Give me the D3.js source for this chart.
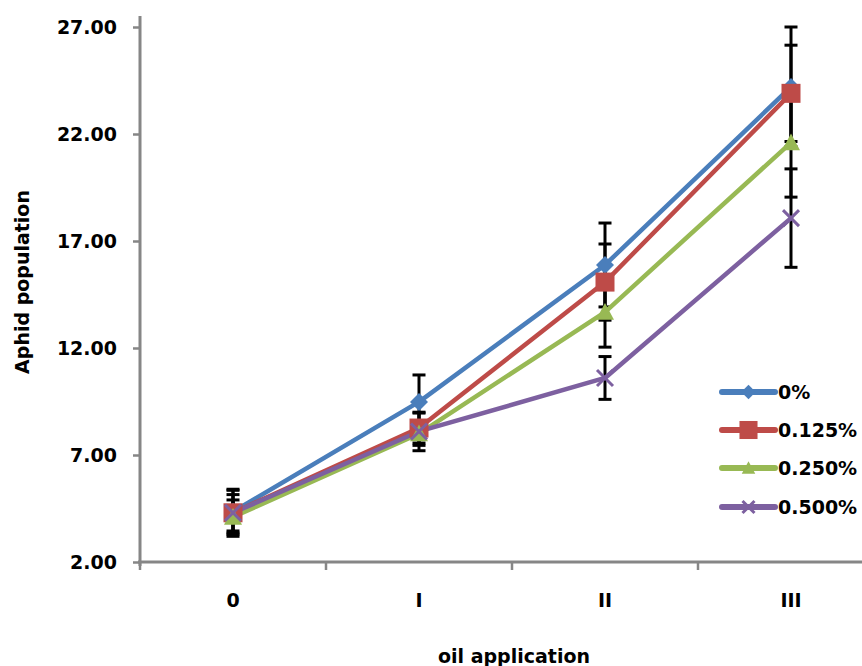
<!DOCTYPE html>
<html><head><meta charset="utf-8">
<script src="https://cdn.jsdelivr.net/npm/d3@7"></script>
<style>html,body{margin:0;padding:0;background:#fff;}svg{display:block;}</style>
</head><body>
<svg id="chart" width="862" height="666"></svg>
<script>
const categories = ["0", "I", "II", "III"];
const seriesNames = ["0%", "0.125%", "0.250%", "0.500%"];
const values0 = [4.35, 9.48, 15.88, 24.2];
const values1 = [4.3, 8.26, 15.08, 23.9];
const values2 = [4.1, 8.0, 13.68, 21.6];
const values3 = [4.3, 8.1, 10.6, 18.07];
const errors0 = [1.0, 1.26, 1.96, 2.8];
const errors1 = [0.85, 0.7, 1.78, 2.25];
const errors2 = [0.8, 0.55, 1.64, 2.55];
const errors3 = [1.1, 0.9, 1.0, 2.3];
const yTicks = [2, 7, 12, 17, 22, 27];
const colors = ["#4A7EBB", "#BE4B48", "#98B954", "#7D60A0"];
const markers = ["diamond", "square", "triangle", "x"];

const series = [values0, values1, values2, values3].map((v, i) => ({
  name: seriesNames[i], color: colors[i], marker: markers[i],
  points: v.map((val, j) => ({cat: categories[j], v: val, e: [errors0, errors1, errors2, errors3][i][j]}))
}));

const FONT = "'DejaVu Sans', sans-serif";
const svg = d3.select("#chart");
const x = d3.scaleBand().domain(categories).range([140, 884]).paddingInner(0).paddingOuter(0);
const y = d3.scaleLinear().domain([2, 27]).range([562, 27]);
const cx = c => x(c) + x.bandwidth() / 2;

// Y axis
const yAxis = svg.append("g").attr("transform", "translate(140,0)")
  .call(d3.axisLeft(y).tickValues(yTicks).tickFormat(d3.format(".2f")).tickSize(7).tickPadding(16));
yAxis.select(".domain").remove();
yAxis.append("line").attr("x1", 0).attr("x2", 0).attr("y1", 16).attr("y2", 566)
  .attr("stroke", "#868686").attr("stroke-width", 3);
yAxis.selectAll(".tick line").attr("stroke", "#868686").attr("stroke-width", 2.5);
yAxis.selectAll(".tick text").attr("font-family", FONT).attr("font-weight", "bold")
  .attr("font-size", "19px").attr("fill", "#000");

// X axis
const xAxis = svg.append("g").attr("transform", "translate(0,562)")
  .call(d3.axisBottom(x).tickSize(0).tickPadding(32));
xAxis.select(".domain").remove();
xAxis.append("line").attr("x1", 138).attr("x2", 862).attr("y1", 0).attr("y2", 0)
  .attr("stroke", "#868686").attr("stroke-width", 3);
xAxis.selectAll(".xt").data(categories.concat(["_end"])).enter().append("line")
  .attr("x1", d => d === "_end" ? 884 : x(d)).attr("x2", d => d === "_end" ? 884 : x(d))
  .attr("y1", 0).attr("y2", 8).attr("stroke", "#868686").attr("stroke-width", 2.5);
xAxis.selectAll(".tick text").attr("font-family", FONT).attr("font-weight", "bold")
  .attr("font-size", "19px").attr("fill", "#000");

// Axis titles
svg.append("text").attr("x", 514).attr("y", 663).attr("text-anchor", "middle")
  .attr("font-family", FONT).attr("font-weight", "bold").attr("font-size", "19px").text("oil application");
svg.append("text").attr("transform", "translate(29,282) rotate(-90)").attr("text-anchor", "middle")
  .attr("font-family", FONT).attr("font-weight", "bold").attr("font-size", "19px").text("Aphid population");

// Error bars
const eb = svg.append("g");
series.forEach(s => {
  s.points.forEach(p => {
    const px = cx(p.cat);
    eb.append("line").attr("x1", px).attr("x2", px).attr("y1", y(p.v + p.e)).attr("y2", y(p.v - p.e))
      .attr("stroke", "#000").attr("stroke-width", 3);
    [p.v + p.e, p.v - p.e].forEach(t => {
      eb.append("line").attr("x1", px - 6.5).attr("x2", px + 6.5).attr("y1", y(t)).attr("y2", y(t))
        .attr("stroke", "#000").attr("stroke-width", 3);
    });
  });
});

// Lines
const line = d3.line().x(d => cx(d.cat)).y(d => y(d.v));
series.forEach(s => {
  svg.append("path").datum(s.points).attr("d", line).attr("fill", "none")
    .attr("stroke", s.color).attr("stroke-width", 4.5).attr("stroke-linejoin", "round").attr("stroke-linecap", "round");
});

function drawMarker(g, type, px, py, color, k) {
  k = k || 1;
  if (type === "diamond") {
    const w = 9 * k;
    g.append("path").attr("d", `M${px},${py - w}L${px + w},${py}L${px},${py + w}L${px - w},${py}Z`).attr("fill", color);
  } else if (type === "square") {
    const w = 9.5 * k;
    g.append("rect").attr("x", px - w).attr("y", py - w).attr("width", 2 * w).attr("height", 2 * w).attr("fill", color);
  } else if (type === "triangle") {
    const w = 9 * k;
    g.append("path").attr("d", `M${px},${py - w}L${px + w},${py + w * 0.85}L${px - w},${py + w * 0.85}Z`).attr("fill", color);
  } else {
    const w = 8 * k;
    g.append("path").attr("d", `M${px - w},${py - w}L${px + w},${py + w}M${px + w},${py - w}L${px - w},${py + w}`)
      .attr("stroke", color).attr("stroke-width", 3).attr("fill", "none");
  }
}

// Markers
const mg = svg.append("g");
series.forEach(s => {
  s.points.forEach(p => drawMarker(mg, s.marker, cx(p.cat), y(p.v), s.color));
});

// Legend
const lg = svg.append("g");
const legendY = [392, 430, 468, 507];
series.forEach((s, i) => {
  const ly = legendY[i];
  lg.append("line").attr("x1", 722).attr("x2", 775).attr("y1", ly).attr("y2", ly)
    .attr("stroke", s.color).attr("stroke-width", 6).attr("stroke-linecap", "round");
  drawMarker(lg, s.marker, 748.5, ly, s.color, s.marker === "diamond" ? 0.8 : (s.marker === "square" ? 0.95 : 0.75));
  lg.append("text").attr("x", 778).attr("y", ly).attr("dy", "0.36em")
    .attr("font-family", FONT).attr("font-weight", "bold").attr("font-size", "19px").text(s.name);
});
</script>
</body></html>
